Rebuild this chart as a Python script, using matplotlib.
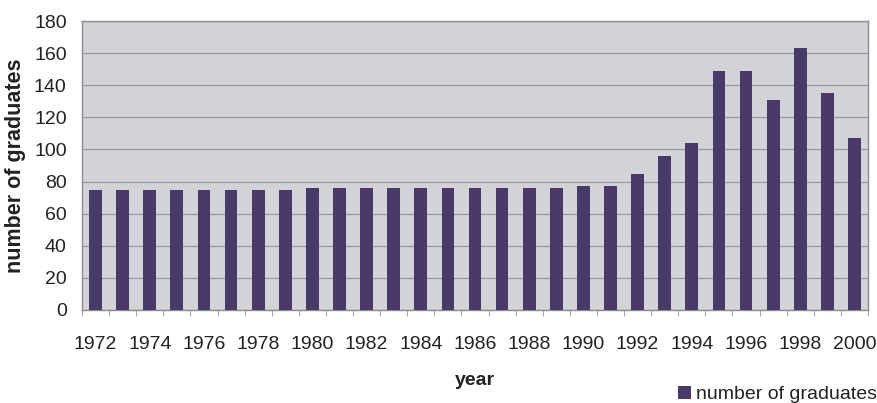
import matplotlib
matplotlib.use("Agg")
import matplotlib.pyplot as plt
import numpy as np

years = list(range(1972, 2001))
graduates = [75, 75, 75, 75, 75, 75, 75, 75, 76, 76, 76, 76, 76, 76, 76, 76,
             76, 76, 77, 77, 85, 96, 104, 149, 149, 131, 163, 135, 107]
series_name = "number of graduates"
y_ticks = [0, 20, 40, 60, 80, 100, 120, 140, 160, 180]

plt.rcParams['font.family'] = ['Liberation Sans', 'DejaVu Sans']

W, H = 878, 403
fig = plt.figure(figsize=(W / 100, H / 100), dpi=100)
fig.patch.set_facecolor('white')
ax = fig.add_axes([82 / W, (H - 310) / H, 786 / W, 289 / H])
ax.set_facecolor('#d4d3d8')

x = np.arange(len(years))
bars = ax.bar(x, graduates, width=0.47, color='#4a3a69', zorder=3,
              label=series_name)

ax.set_xlim(-0.5, len(years) - 0.5)
ax.set_ylim(0, 180)
ax.set_yticks(y_ticks)
ax.yaxis.grid(True, color='#9a9a9e', linewidth=0.9, zorder=1)
ax.tick_params(axis='y', length=0, pad=11, labelsize=14, labelcolor='#222222')

ax.set_xticks(x[::2])
ax.set_xticklabels([str(y) for y in years[::2]])
ax.set_xticks(np.arange(-0.5, len(years), 1), minor=True)
ax.tick_params(axis='x', which='major', length=0, pad=19, labelsize=14,
               labelcolor='#222222')
ax.tick_params(axis='x', which='minor', length=4, color='#aaaaaa', width=0.8)

for side in ['top', 'right', 'left', 'bottom']:
    ax.spines[side].set_color('#8c8c90')
    ax.spines[side].set_linewidth(1.0)

ax.set_ylabel("number of graduates", fontsize=15.5, fontweight='bold',
              color='#222222')
ax.yaxis.set_label_coords(-0.071, 0.5)
ax.set_xlabel("year", fontsize=14, fontweight='bold', color='#222222')
ax.xaxis.set_label_coords(0.5, -0.215)

fig.legend(handles=[bars], labels=[series_name], loc='lower right',
           bbox_to_anchor=(1.012, -0.03), frameon=False, fontsize=14,
           handlelength=0.65, handleheight=0.7, handletextpad=0.25,
           borderaxespad=0.2, labelcolor='#222222')

fig.savefig("out.png", dpi=100)
